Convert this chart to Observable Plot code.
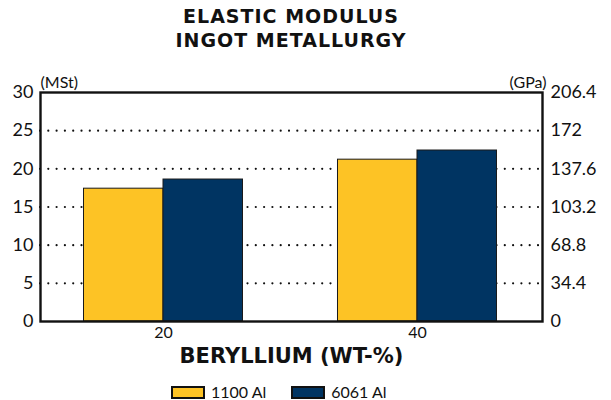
<!DOCTYPE html>
<html>
<head>
<meta charset="utf-8">
<script src="https://cdn.jsdelivr.net/npm/d3@7"></script>
<script src="https://cdn.jsdelivr.net/npm/@observablehq/plot@0.6"></script>
<style>
  body { margin: 0; background: #fff; font-family: Lato, "Open Sans", sans-serif; color: #111; }
  #wrap { width: 611px; }
  #title { box-sizing: border-box; width: 611px; padding: 4px 69px 0 40px; height: 52px; text-align: center;
           font-family: "DejaVu Sans", sans-serif; font-weight: bold; font-size: 19px; line-height: 24px; letter-spacing: 1px; }
  #chart { height: 320px; overflow: hidden; }
  #legend { display: flex; align-items: center; padding-left: 171px; margin-top: 12px; font-size: 16px; line-height: 16px; }
  .sw { width: 30px; height: 9px; border: 2px solid #111; margin-right: 6px; }
  .item { display: flex; align-items: center; margin-right: 25px; }
  svg { display: block; }
</style>
</head>
<body>
<div id="wrap">
  <div id="title">ELASTIC MODULUS<br>INGOT METALLURGY</div>
  <div id="chart"></div>
  <div id="legend"></div>
</div>
<script>
const beryllium = [20, 40];
const alloys = ["1100 Al", "6061 Al"];
const values1100 = [17.4, 21.2];
const values6061 = [18.6, 22.4];
const colors = ["#FDC325", "#003462"];
const mstTicks = [0, 5, 10, 15, 20, 25, 30];
const gpaLabels = ["0", "34.4", "68.8", "103.2", "137.6", "172", "206.4"];
const gridValues = [5, 10, 15, 20, 25];

const halfWidth = 6.26; // bar width in x units
const rows = [];
beryllium.forEach((b, i) => {
  rows.push({be: b, alloy: alloys[0], value: values1100[i], x1: b - halfWidth, x2: b});
  rows.push({be: b, alloy: alloys[1], value: values6061[i], x1: b, x2: b + halfWidth});
});

const chart = Plot.plot({
  width: 611,
  height: 320,
  marginLeft: 40,
  marginRight: 69,
  marginTop: 40,
  marginBottom: 51,
  style: {fontFamily: "Lato, 'Open Sans', sans-serif", color: "#111", background: "white"},
  x: {domain: [10.315, 49.843]},
  y: {domain: [0, 30]},
  color: {domain: alloys, range: colors},
  marks: [
    Plot.ruleY(gridValues, {stroke: "#111", strokeWidth: 2.2, strokeDasharray: "0,8.3", strokeLinecap: "round"}),
    Plot.rectY(rows, {x1: "x1", x2: "x2", y1: 0, y2: "value", fill: "alloy", stroke: "#1a1a1a", strokeWidth: 1}),
    Plot.frame({stroke: "#111", strokeWidth: 2.4}),
    Plot.axisY(mstTicks, {anchor: "left", tickSize: 0, tickPadding: 7, fontSize: 18, label: null}),
    Plot.axisY(mstTicks, {anchor: "right", tickSize: 0, tickPadding: 8, fontSize: 18, label: null,
      tickFormat: d => gpaLabels[mstTicks.indexOf(d)]}),
    Plot.axisX(beryllium, {anchor: "bottom", tickSize: 0, tickPadding: 5, fontSize: 16, label: null}),
    Plot.text(["BERYLLIUM (WT-%)"], {frameAnchor: "bottom", dy: 34.5, lineAnchor: "middle", fontSize: 21,
      fontWeight: "bold", fontFamily: "DejaVu Sans, sans-serif", text: d => d}),
    Plot.text(["(MSt)"], {frameAnchor: "top-left", textAnchor: "start", lineAnchor: "bottom", dy: -5, fontSize: 16, text: d => d}),
    Plot.text(["(GPa)"], {frameAnchor: "top-right", textAnchor: "end", lineAnchor: "bottom", dy: -5, dx: 4, fontSize: 16, text: d => d})
  ]
});
document.getElementById("chart").appendChild(chart);

const legend = document.getElementById("legend");
alloys.forEach((a, i) => {
  const item = document.createElement("div");
  item.className = "item";
  const sw = document.createElement("div");
  sw.className = "sw";
  sw.style.background = colors[i];
  const lab = document.createElement("span");
  lab.textContent = a;
  item.appendChild(sw);
  item.appendChild(lab);
  legend.appendChild(item);
});
</script>
</body>
</html>
